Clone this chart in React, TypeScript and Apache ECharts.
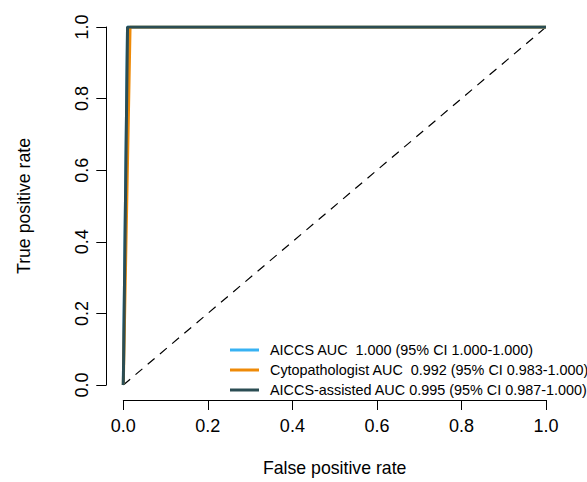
import React, { useEffect, useRef } from "react";
import * as echarts from "echarts";

// ROC curve points (false positive rate, true positive rate)
const aiccsFpr = [0, 0.01, 1];
const aiccsTpr = [0, 1, 1];
const cytoFpr = [0, 0.016, 1];
const cytoTpr = [0, 1, 1];
const assistedFpr = [0, 0.01, 1];
const assistedTpr = [0, 1, 1];
const refFpr = [0, 1];
const refTpr = [0, 1];

const seriesNames = [
  "AICCS AUC  1.000 (95% CI 1.000-1.000)",
  "Cytopathologist AUC  0.992 (95% CI 0.983-1.000)",
  "AICCS-assisted AUC 0.995 (95% CI 0.987-1.000)",
];
const seriesColors = ["#38B2F3", "#EE8A08", "#2B4D53"];

const pairs = (xs: number[], ys: number[]) => xs.map((x, i) => [x, ys[i]]);

export default function App() {
  const ref = useRef<HTMLDivElement>(null);
  useEffect(() => {
    if (!ref.current) return;
    const chart = echarts.init(ref.current, undefined, { renderer: "svg" });
    const font = "Liberation Sans, Arial, Helvetica, sans-serif";
    const curves = [
      pairs(aiccsFpr, aiccsTpr),
      pairs(cytoFpr, cytoTpr),
      pairs(assistedFpr, assistedTpr),
    ];
    chart.setOption({
      animation: false,
      backgroundColor: "#ffffff",
      textStyle: { fontFamily: font },
      grid: { left: 123.3, right: 41, top: 27, bottom: 90, containLabel: false },
      xAxis: {
        type: "value",
        min: 0,
        max: 1,
        interval: 0.2,
        offset: 15,
        name: "False positive rate",
        nameLocation: "middle",
        nameGap: 59,
        nameTextStyle: { fontSize: 17.7, color: "#000", fontFamily: font },
        axisLine: { show: true, onZero: false, lineStyle: { color: "#000", width: 1 } },
        axisTick: { show: true, length: 10, lineStyle: { color: "#000", width: 1 } },
        axisLabel: {
          fontSize: 18,
          color: "#000",
          margin: 17,
          fontFamily: font,
          formatter: (v: number) => v.toFixed(1),
        },
        splitLine: { show: false },
      },
      yAxis: {
        type: "value",
        min: 0,
        max: 1,
        interval: 0.2,
        offset: 17,
        name: "True positive rate",
        nameLocation: "middle",
        nameGap: 73,
        nameTextStyle: { fontSize: 17.7, color: "#000", fontFamily: font },
        axisLine: { show: true, onZero: false, lineStyle: { color: "#000", width: 1 } },
        axisTick: { show: true, length: 10, lineStyle: { color: "#000", width: 1 } },
        axisLabel: {
          fontSize: 18,
          color: "#000",
          margin: 15,
          rotate: 90,
          fontFamily: font,
          formatter: (v: number) => v.toFixed(1),
        },
        splitLine: { show: false },
      },
      legend: {
        orient: "vertical",
        left: 225,
        top: 338,
        padding: 5,
        itemWidth: 29,
        itemHeight: 3,
        itemGap: 6,
        icon: "rect",
        data: seriesNames,
        textStyle: {
          fontSize: 14.4,
          lineHeight: 14,
          color: "#000",
          fontFamily: font,
          padding: [0, 0, 0, 6],
        },
      },
      series: [
        {
          type: "line",
          name: "reference",
          data: pairs(refFpr, refTpr),
          symbol: "none",
          silent: true,
          lineStyle: { color: "#000", width: 1.2, type: [9, 7] },
          z: 1,
        },
        ...curves.map((d, i) => ({
          type: "line",
          name: seriesNames[i],
          data: d,
          symbol: "none",
          color: seriesColors[i],
          lineStyle: { color: seriesColors[i], width: 3 },
          z: 2 + i,
        })),
      ],
    });
    return () => chart.dispose();
  }, []);
  return (
    <div
      ref={ref}
      style={{ position: "fixed", left: 0, top: 0, width: 587, height: 482 }}
    />
  );
}
